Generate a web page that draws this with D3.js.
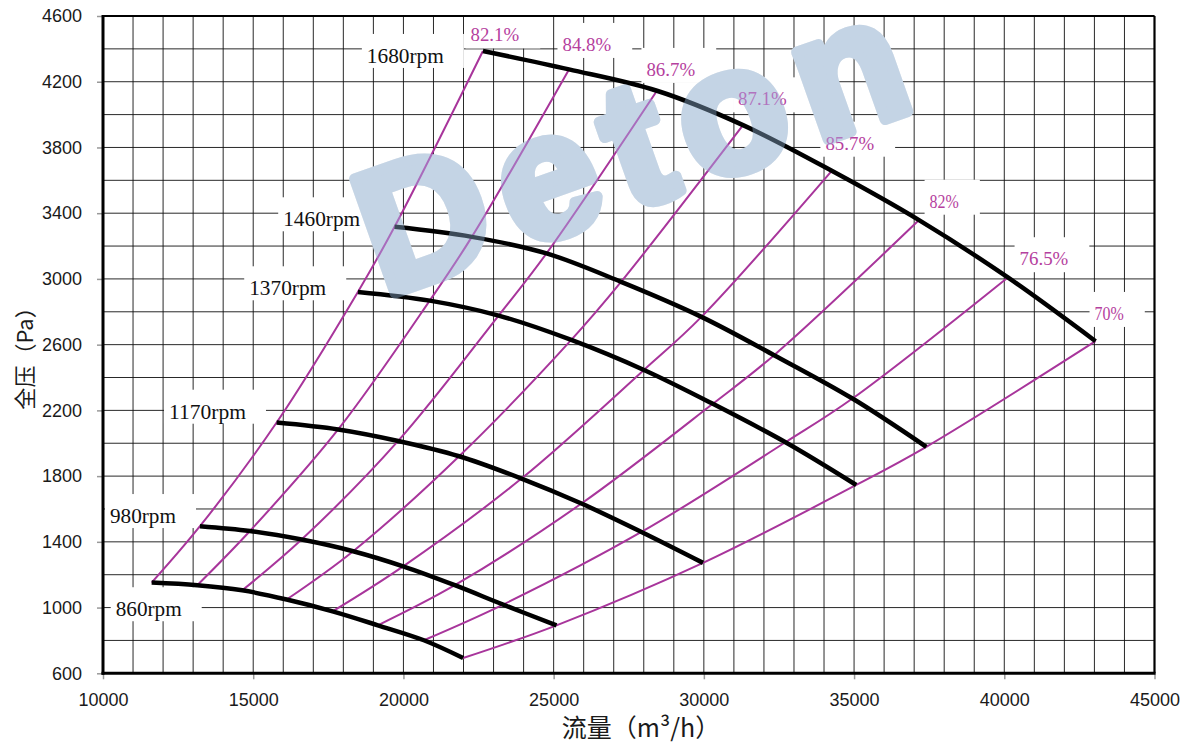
<!DOCTYPE html>
<html><head><meta charset="utf-8">
<script src="https://cdn.jsdelivr.net/npm/d3@7/dist/d3.min.js"></script>
<style>body{margin:0;background:#fff}svg{display:block}</style>
</head><body><svg id="c" width="1187" height="745"></svg>
<script>
// ---- data ----
const xTickValues = [10000,15000,20000,25000,30000,35000,40000,45000];
const yTickValues = [600,1000,1400,1800,2200,2600,3000,3400,3800,4200,4600];
const rpmLabels = ["860rpm","980rpm","1170rpm","1370rpm","1460rpm","1680rpm"];
const effLabels = ["82.1%","84.8%","86.7%","87.1%","85.7%","82%","76.5%","70%"];

const flow860  = [11620,13137,14635,16112,17642,19149,20680,21987];
const pres860  = [1152,1136,1105,1049,977,892,801,693];
const flow980  = [13227,14891,16611,18327,19991,21711,23318,25095];
const pres980  = [1495,1466,1414,1343,1251,1136,1018,892];
const flow1170 = [15779,17828,19825,21854,23930,25926,27922,29972];
const pres1170 = [2126,2084,2014,1921,1785,1633,1460,1272];
const flow1370 = [18484,20876,23168,25587,28006,30298,32717,35072];
const pres1370 = [2921,2868,2777,2629,2446,2240,2006,1746];
const flow1460 = [19705,22277,24762,27244,29919,32337,34946,37404];
const pres1460 = [3317,3256,3155,2982,2769,2536,2272,1978];
const flow1680 = [22646,25511,28438,31303,34257,37162,40119,43037];
const pres1680 = [4387,4275,4145,3936,3658,3358,3009,2621];

// label anchors (data units: left edge of text, vertical centre)
const rpmLabelQ = [10423,10233,12196,14867,15998,18783];
const rpmLabelP = [996,1563,2198,2949,3369,4363];
const effLabelQ = [22233,25294,28089,31137,34045,37514,40509,43004];
const effLabelP = [4488,4430,4278,4099,3829,3476,3126,2793];

const xTitle = "流量（m³/h）";
const yTitle = "全压（Pa）";
const watermark = "Deton";

// ---- build ----
const flows = [flow860,flow980,flow1170,flow1370,flow1460,flow1680];
const press = [pres860,pres980,pres1170,pres1370,pres1460,pres1680];
const curves = flows.map((f,i)=>f.map((q,j)=>[q,press[i][j]]));
const effLines = effLabels.map((_,j)=>curves.map(c=>c[j]));

const L=103,R=1154.5,T=16,B=673.3;
const x = d3.scaleLinear([10000,45000],[L,R]);
const y = d3.scaleLinear([600,4600],[B,T]);
const svg = d3.select("#c");

// grid
const grid = svg.append("g").attr("stroke","#111").attr("stroke-width",0.9);
grid.selectAll(".gx").data(x.ticks(35)).join("line")
  .attr("x1",d=>x(d)).attr("x2",d=>x(d)).attr("y1",T).attr("y2",B);
grid.selectAll(".gy").data(y.ticks(20)).join("line")
  .attr("x1",L).attr("x2",R).attr("y1",d=>y(d)).attr("y2",d=>y(d));

// label boxes
const rpmFont=22, effFont=19.5;
const boxes = svg.append("g").attr("fill","#fff");
rpmLabels.forEach((t,i)=>{
  const w=t.length*rpmFont/2;
  boxes.append("rect").attr("x",x(rpmLabelQ[i])-5).attr("y",y(rpmLabelP[i])-21)
    .attr("width",w+25).attr("height",34);
});
effLabels.forEach((t,i)=>{
  const w=t.length*effFont/2;
  boxes.append("rect").attr("x",x(effLabelQ[i])-5).attr("y",y(effLabelP[i])-21)
    .attr("width",w+26).attr("height",35);
});

// watermark
function drawMark(fill,op){
  svg.append("text").text(watermark)
    .attr("transform","translate(384,297) rotate(-19.5)")
    .attr("font-family","Liberation Sans, Arial, sans-serif")
    .attr("font-weight","bold").attr("font-size",176)
    .attr("letter-spacing",17)
    .attr("fill",fill).attr("stroke",fill).attr("stroke-width",11)
    .attr("stroke-linejoin","round").attr("opacity",op);
}
drawMark("#d3d6da",1);

// efficiency lines
const line = d3.line().x(d=>x(d[0])).y(d=>y(d[1])).curve(d3.curveCatmullRom.alpha(0.5));
svg.append("g").selectAll("path").data(effLines).join("path")
  .attr("d",line).attr("fill","none").attr("stroke","#a8359b").attr("stroke-width",2);
// rpm curves
svg.append("g").selectAll("path").data(curves).join("path")
  .attr("d",line).attr("fill","none").attr("stroke","#000").attr("stroke-width",4.5);

// labels
rpmLabels.forEach((t,i)=>{
  svg.append("text").text(t).attr("x",x(rpmLabelQ[i])).attr("y",y(rpmLabelP[i])).attr("dy","0.36em")
    .attr("font-family","Liberation Serif, serif").attr("font-size",rpmFont).attr("fill","#111")
    .attr("textLength",t.length*rpmFont/2).attr("lengthAdjust","spacingAndGlyphs");
});
effLabels.forEach((t,i)=>{
  svg.append("text").text(t).attr("x",x(effLabelQ[i])).attr("y",y(effLabelP[i])).attr("dy","0.36em")
    .attr("font-family","Liberation Serif, serif").attr("font-size",effFont).attr("fill","#b5409e")
    .attr("textLength",t.length*effFont/2).attr("lengthAdjust","spacingAndGlyphs");
});

// watermark overlay
drawMark("#abd3fb",0.35);

// axes
const ax = svg.append("g").attr("transform",`translate(0,${B})`)
  .call(d3.axisBottom(x).tickValues(xTickValues).tickSize(6).tickPadding(14).tickFormat(d3.format("d")));
const ay = svg.append("g").attr("transform",`translate(${L},0)`)
  .call(d3.axisLeft(y).tickValues(yTickValues).tickSize(6).tickPadding(15).tickFormat(d3.format("d")));
[ax,ay].forEach(a=>{
  a.select(".domain").remove();
  a.selectAll(".tick line").attr("stroke","#999").attr("stroke-width",1.5);
  a.selectAll(".tick text").attr("font-family","Liberation Sans, Arial, sans-serif")
    .attr("font-size",18).attr("fill","#1a1a1a");
});

// frame
svg.append("line").attr("x1",L).attr("x2",R).attr("y1",T).attr("y2",T).attr("stroke","#000").attr("stroke-width",2.2);
svg.append("line").attr("x1",R).attr("x2",R).attr("y1",T).attr("y2",B).attr("stroke","#000").attr("stroke-width",2.2);
svg.append("line").attr("x1",L).attr("x2",L).attr("y1",T-1).attr("y2",B+1.5).attr("stroke","#000").attr("stroke-width",3);
svg.append("line").attr("x1",L-1.5).attr("x2",R+1).attr("y1",B).attr("y2",B).attr("stroke","#000").attr("stroke-width",3);

// titles
svg.append("text").text(xTitle).attr("x",641).attr("y",737).attr("text-anchor","middle")
  .attr("font-family","Noto Sans CJK SC, sans-serif").attr("font-size",25).attr("fill","#1a1a1a");
svg.append("text").text(yTitle).attr("transform","translate(33,353) rotate(-90)").attr("text-anchor","middle")
  .attr("font-family","Noto Sans CJK SC, sans-serif").attr("font-size",22).attr("fill","#1a1a1a");
</script></body></html>
